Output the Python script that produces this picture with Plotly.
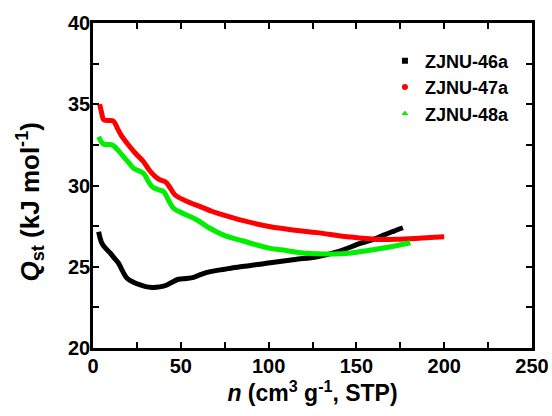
import plotly.graph_objects as go

# values
n_46a = [3.2, 5.1, 7.5, 9.9, 12, 14.6, 17, 19.4, 23, 26.9, 30, 33.6, 38, 42.1, 45, 48.7,
         53, 57.3, 62, 66.8, 75, 83.9, 95, 101, 115, 127.6, 140, 152.2, 160, 165.5, 171, 176.5]
q_46a = [27.16, 26.44, 26.1, 25.83, 25.55, 25.21, 24.7, 24.29, 24.05, 23.88, 23.78, 23.73,
         23.76, 23.88, 24.05, 24.23, 24.28, 24.35, 24.55, 24.7, 24.85, 25.0, 25.15, 25.25,
         25.45, 25.62, 25.95, 26.44, 26.7, 26.95, 27.18, 27.4]

n_47a = [3.8, 5, 6, 9, 11.7, 14, 16, 19.4, 24, 28.8, 32, 35.5, 38, 41.2, 44, 46.9, 53, 61.1,
         68, 74.4, 85, 101, 115, 127.6, 145, 161.7, 175, 192, 200]
q_47a = [35.0, 34.44, 34.05, 34.0, 33.95, 33.5, 33.1, 32.6, 32.0, 31.46, 30.95, 30.54, 30.35,
         30.23, 29.85, 29.4, 29.05, 28.7, 28.4, 28.18, 27.85, 27.46, 27.25, 27.1, 26.85,
         26.68, 26.7, 26.8, 26.85]

n_48a = [3.2, 6, 10.8, 14, 17.4, 20, 23.1, 28.8, 31, 33.6, 37, 40.2, 43, 45.9, 52, 59.2, 66,
         74.4, 85, 101, 110, 118.1, 127, 137, 147, 156, 168, 180.7]
q_48a = [33.0, 32.55, 32.5, 32.2, 31.77, 31.45, 31.06, 30.75, 30.35, 29.93, 29.75, 29.62,
         29.1, 28.6, 28.25, 27.88, 27.4, 26.95, 26.6, 26.13, 26.0, 25.86, 25.8, 25.78, 25.85,
         25.99, 26.2, 26.48]

series = [
    ("ZJNU-46a", n_46a, q_46a, "#000000", "square"),
    ("ZJNU-47a", n_47a, q_47a, "#ff0000", "circle"),
    ("ZJNU-48a", n_48a, q_48a, "#00ee00", "triangle-up"),
]

FONT = "Liberation Sans"

fig = go.Figure()
for name, x, y, color, symbol in series:
    # dense marker trail drawn as a thick line
    fig.add_trace(go.Scatter(x=x, y=y, mode="lines", line=dict(color=color, width=5, shape="spline"),
                             showlegend=False, hoverinfo="skip"))
    # legend entry: marker only
    fig.add_trace(go.Scatter(x=[None], y=[None], mode="markers", name=name,
                             marker=dict(color=color, symbol=symbol, size=6)))

tick_style = dict(ticks="inside", ticklen=6, tickwidth=2, tickcolor="#000000")

fig.update_layout(
    width=552, height=416,
    margin=dict(l=93, r=20, t=23, b=68, autoexpand=False),
    paper_bgcolor="white", plot_bgcolor="white",
    xaxis=dict(
        range=[0, 250], dtick=50, tick0=0,
        showline=True, linecolor="#000000", linewidth=2.5, mirror="allticks",
        showgrid=False, zeroline=False, ticklabelstandoff=-2, layer="above traces",
        minor=dict(dtick=25, **tick_style), **tick_style,
        tickfont=dict(family=FONT, size=20, color="black", weight="bold"),
        title=dict(text="<i>n</i> (cm<sup>3</sup> g<sup>-1</sup>, STP)", standoff=4,
                   font=dict(family=FONT, size=23, color="black", weight="bold")),
    ),
    yaxis=dict(
        range=[20, 40], dtick=5, tick0=20,
        showline=True, linecolor="#000000", linewidth=2.5, mirror="allticks",
        showgrid=False, zeroline=False, ticklabelstandoff=-4, layer="above traces",
        minor=dict(dtick=2.5, **tick_style), **tick_style,
        tickfont=dict(family=FONT, size=20, color="black", weight="bold"),
    ),
    annotations=[dict(
        text="<i>Q</i><sub>st</sub> (kJ mol<sup>-1</sup>)", textangle=-90,
        xref="paper", yref="paper", x=-0.144, y=0.45, xanchor="center", yanchor="middle",
        showarrow=False, font=dict(family=FONT, size=26, color="black", weight="bold"),
    )],
    legend=dict(x=0.665, y=0.94, xanchor="left", yanchor="top", bgcolor="rgba(0,0,0,0)",
                font=dict(family=FONT, size=18, color="black", weight="bold"),
                itemwidth=30, tracegroupgap=0),
)

fig.write_html("out.html", config={"displayModeBar": False},
               post_script="document.body.style.margin='0';")
